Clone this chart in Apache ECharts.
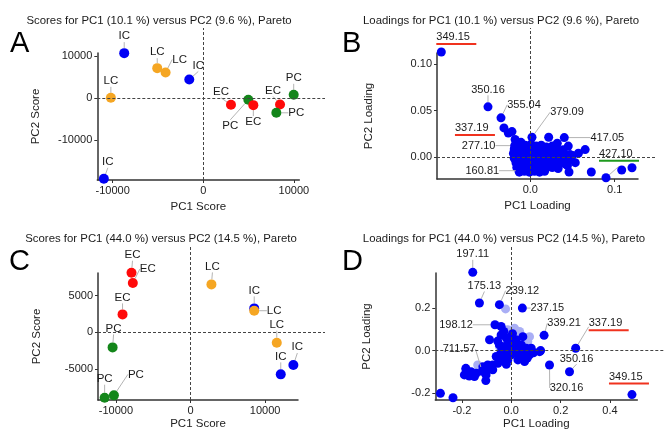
<!DOCTYPE html>
<html>
<head>
<meta charset="utf-8">
<script src="https://cdn.jsdelivr.net/npm/echarts@6/dist/echarts.min.js"></script>
<style>
  html, body { margin: 0; padding: 0; background: #fff; }
  #chart { width: 664px; height: 429px; }
</style>
</head>
<body>
<div id="chart"></div>
<script>
// ---- panel A: scores, PC1 (10.1 %) vs PC2 (9.6 %)
const aGroups = ['IC', 'LC', 'LC', 'IC', 'LC', 'EC', 'PC', 'EC', 'EC', 'PC', 'PC', 'IC'];
const aPC1 = [-8729, -5083, -4162, -1547, -10203, 3057, 4972, 5525, 8471, 8066, 9982, -10976];
const aPC2 = [10664, 7109, 6082, 4423, 79, -1580, -395, -1659, -1501, -3476, 790, -19115];

// ---- panel C: scores, PC1 (44.0 %) vs PC2 (14.5 %)
const cGroups = ['EC', 'EC', 'EC', 'PC', 'PC', 'PC', 'LC', 'IC', 'LC', 'LC', 'IC', 'IC'];
const cPC1 = [-7911, -7733, -9111, -10444, -11511, -10267, 2800, 8533, 8533, 11556, 13778, 12089];
const cPC2 = [8136, 6727, 2455, -2045, -8909, -8591, 6545, 3273, 2955, -1409, -4455, -5727];

// ---- panel B: loadings, labelled variables
const bTagNames = ['349.15', '350.16', '355.04', '337.19', '379.09', '417.05', '277.10', '160.81', '427.10'];
const bTagX = [-0.1054, -0.0501, -0.0347, -0.0312, 0.0020, 0.0403, -0.0185, -0.0118, 0.0897];
const bTagY = [0.1129, 0.0541, 0.0423, 0.0315, 0.0215, 0.0211, 0.0125, -0.0144, -0.0219];
// other variables
const bX = [-0.0217, 0.0218, 0.032, 0.065, 0.057, 0.0459, 0.0723, 0.1083, 0.1205, 0.0533, -0.026, -0.018, 0.039, 0.045, 0.050, 0.044,
  -0.016, -0.011, -0.006, 0.001, 0.007, 0.013, 0.019, 0.026, 0.031,
  -0.019, -0.014, -0.008, -0.003, 0.004, 0.010, 0.016, 0.022, 0.028, 0.034, 0.040,
  -0.020, -0.015, -0.009, -0.004, 0.002, 0.008, 0.013, 0.019, 0.025, 0.031, 0.036, 0.042, 0.047,
  -0.019, -0.013, -0.008, -0.002, 0.004, 0.010, 0.016, 0.021, 0.027, 0.033, 0.038, 0.045,
  -0.017, -0.012, -0.006, 0.000, 0.006, 0.012, 0.018, 0.024, 0.030, 0.036, 0.041,
  -0.016, -0.010, -0.004, 0.002, 0.008, 0.014, 0.020, 0.026, 0.033,
  -0.013, -0.007, -0.001, 0.005, 0.011, 0.017];
const bY = [0.0275, 0.0215, 0.015, 0.0082, 0.0043, -0.0158, -0.0158, -0.0137, -0.0112, -0.0058, 0.026, 0.019, 0.008, 0.012, 0.002, -0.009,
  0.014, 0.016, 0.013, 0.014, 0.012, 0.013, 0.011, 0.012, 0.010,
  0.009, 0.010, 0.008, 0.010, 0.009, 0.008, 0.009, 0.007, 0.008, 0.006, 0.004,
  0.004, 0.005, 0.003, 0.005, 0.004, 0.003, 0.005, 0.003, 0.004, 0.002, 0.003, 0.001, 0.003,
  -0.001, 0.000, -0.002, 0.000, -0.001, 0.000, -0.002, 0.000, -0.001, -0.002, 0.000, -0.003,
  -0.006, -0.005, -0.007, -0.005, -0.006, -0.007, -0.005, -0.006, -0.007, -0.005, -0.007,
  -0.011, -0.010, -0.012, -0.010, -0.011, -0.012, -0.010, -0.011, -0.012,
  -0.016, -0.015, -0.016, -0.015, -0.016, -0.015];

// ---- panel D: loadings, labelled variables
const dTagNames = ['197.11', '175.13', '239.12', '237.15', '198.12', '339.21', '337.19', '350.16', '320.16', '349.15', '711.57'];
const dTagX = [-0.156, -0.129, -0.048, 0.045, -0.066, 0.133, 0.261, 0.236, 0.155, 0.489, -0.118];
const dTagY = [0.370, 0.225, 0.217, 0.201, 0.122, 0.072, 0.011, -0.100, -0.068, -0.208, -0.098];
// other variables
const dX = [-0.041, -0.088, -0.041, -0.020, 0.000, 0.020, 0.047, -0.048, -0.027, -0.007, 0.013, 0.041, 0.061, 0.081, 0.115, 0.119,
  -0.041, -0.020, 0.000, 0.020, 0.047, 0.074, -0.061, -0.034, -0.014, 0.027, 0.054, -0.054, -0.075, -0.095, -0.115,
  -0.075, -0.102, -0.183, -0.163, -0.142, -0.190, -0.170, -0.149, -0.102, -0.103, -0.287, -0.236, -0.184,
  -0.010, 0.005, -0.025, 0.010, 0.030, -0.010, 0.035, 0.005, -0.030, 0.025, -0.055, 0.065, 0.090, -0.020, -0.035];
const dY = [0.114, 0.051, 0.074, 0.059, 0.066, 0.051, 0.066, 0.027, 0.019, 0.019, 0.019, 0.027, 0.011, 0.011, -0.005, 0.000,
  -0.005, -0.012, -0.020, -0.012, -0.020, -0.020, -0.028, -0.044, -0.044, -0.044, -0.052, -0.060, -0.068, -0.068, -0.076,
  -0.091, -0.100, -0.091, -0.100, -0.107, -0.115, -0.120, -0.123, -0.115, -0.142, -0.202, -0.223, -0.084,
  0.040, 0.035, 0.005, 0.000, 0.000, -0.025, -0.030, 0.080, 0.090, 0.030, 0.045, -0.035, -0.010, -0.065, -0.020];
// faint (lighter) variables
const dFaintX = [-0.023, -0.014, 0.013, 0.034, 0.067, -0.136, -0.034, -0.048, 0.074];
const dFaintY = [0.197, 0.098, 0.106, 0.090, 0.043, -0.068, -0.028, 0.019, 0.066];

// ---- layout (label offsets in px, relative to the point)
const aOff = [[0, -17], [0, -16], [14, -13], [9, -14], [0, -17], [-10, -13], [-18, 26], [0, 17], [-7, -14], [20, 0], [0, -17], [4, -17]];
const cOff = [[1, -18], [15, -14], [0, -17], [1, -19], [0, -19], [22, -21], [1, -18], [0, -18], [20, 0], [0, -18], [4, -18], [0, -18]];
const bOff = [[15, -14], [0, -17], [23, -13], [-29, 1], [35, -25], [43, 0], [-36, 0], [-38, 0], [13, -23]];
const dOff = [[0, -18], [5, -17], [23, -14], [25, 0], [-39, 0], [20, -12], [33, -24], [7, -13], [17, 23], [-3, -17], [-23, -22]];
const bUnder = { 0: 'r', 3: 'r', 8: 'g' };
const dUnder = { 6: 'r', 9: 'r' };
const bNoLine = [0, 3];
const dNoLine = [9];

const FONT = 'Liberation Sans, Arial, Helvetica, sans-serif';
const groupColor = { IC: '#0000f5', LC: '#f5a623', EC: '#ff0a0a', PC: '#13861a' };
const BLUE = '#0000f5';

// plot boxes [left, top, right, bottom] and the reach of the zero lines
const boxes = [
  { b: [97.3, 53, 299.3, 180], x: [-11700, 10600], y: [-19400, 10700], reach: [325, 28] },
  { b: [437, 53, 638, 179], x: [-0.1105, 0.1276], y: [-0.0233, 0.1118], reach: [657, 28] },
  { b: [98, 273, 298, 400], x: [-12400, 14400], y: [-9223, 8100], reach: [325, 247] },
  { b: [435.3, 273, 637.3, 400], x: [-0.3077, 0.5106], y: [-0.2336, 0.3668], reach: [664, 247] }
];
const ticks = [
  { x: [-10000, 0, 10000], y: [-10000, 0, 10000], fx: v => String(v), fy: v => String(v), nx: 'PC1 Score', ny: 'PC2 Score', gx: 21, gy: 55 },
  { x: [0, 0.1], y: [0, 0.05, 0.1], fx: v => v.toFixed(1), fy: v => v.toFixed(2), nx: 'PC1 Loading', ny: 'PC2 Loading', gx: 21, gy: 62 },
  { x: [-10000, 0, 10000], y: [-5000, 0, 5000], fx: v => String(v), fy: v => String(v), nx: 'PC1 Score', ny: 'PC2 Score', gx: 18, gy: 55 },
  { x: [-0.2, 0, 0.2, 0.4], y: [-0.2, 0, 0.2], fx: v => v.toFixed(1), fy: v => v.toFixed(1), nx: 'PC1 Loading', ny: 'PC2 Loading', gx: 18, gy: 62 }
];

const grids = [], xAxes = [], yAxes = [];
const axisColor = '#333';
boxes.forEach((p, i) => {
  const [l, t, r, b] = p.b;
  grids.push({ left: l, top: t, width: r - l, height: b - t, containLabel: false, outerBoundsMode: 'none' });
  const tk = ticks[i];
  const common = {
    type: 'value', gridIndex: i, scale: true,
    axisLine: { show: true, onZero: false, lineStyle: { color: axisColor, width: 1.5 } },
    axisTick: { show: true, length: 3, lineStyle: { color: axisColor } },
    splitLine: { show: false },
    nameLocation: 'middle',
    nameTextStyle: { fontFamily: FONT, fontSize: 11.5, color: '#222' }
  };
  xAxes.push(Object.assign({}, common, {
    min: p.x[0], max: p.x[1], name: tk.nx, nameGap: tk.gx,
    axisTick: Object.assign({}, common.axisTick, { customValues: tk.x }),
    axisLabel: { customValues: tk.x, formatter: tk.fx, fontFamily: FONT, fontSize: 11, color: '#222', margin: 5 }
  }));
  yAxes.push(Object.assign({}, common, {
    min: p.y[0], max: p.y[1], name: tk.ny, nameGap: tk.gy,
    axisTick: Object.assign({}, common.axisTick, { customValues: tk.y }),
    axisLabel: { customValues: tk.y, formatter: tk.fy, fontFamily: FONT, fontSize: 11, color: '#222', margin: 5 }
  }));
});
// overlay grids that carry the dashed zero lines past the plot box
boxes.forEach((p, i) => {
  const [l, t, r, b] = p.b;
  const [rr, tt] = p.reach;
  const sx = (p.x[1] - p.x[0]) / (r - l);
  const sy = (p.y[1] - p.y[0]) / (b - t);
  grids.push({ left: l, top: tt, width: rr - l, height: b - tt, containLabel: false, outerBoundsMode: 'none' });
  xAxes.push({ type: 'value', gridIndex: 4 + i, show: false, min: p.x[0], max: p.x[0] + (rr - l) * sx });
  yAxes.push({ type: 'value', gridIndex: 4 + i, show: false, min: p.y[0], max: p.y[0] + (b - tt) * sy });
});

const series = [];
for (let i = 0; i < 4; i++) {
  series.push({
    type: 'scatter', xAxisIndex: 4 + i, yAxisIndex: 4 + i, data: [], silent: true, z: 1,
    markLine: {
      silent: true, symbol: ['none', 'none'], label: { show: false },
      lineStyle: { type: [3, 2], color: '#444', width: 1 },
      data: [{ xAxis: 0 }, { yAxis: 0 }]
    }
  });
}

const leader = { show: true, lineStyle: { color: '#b4b4b4', width: 1 } };
const tagLabel = { show: true, position: 'inside', fontFamily: FONT, fontSize: 11, color: '#1a1a1a' };

function scoreSeries(gi, groups, xs, ys, off) {
  return {
    type: 'scatter', xAxisIndex: gi, yAxisIndex: gi, symbolSize: 10, z: 3, clip: false,
    data: groups.map((g, k) => ({ name: g, value: [xs[k], ys[k]] })),
    itemStyle: { color: p => groupColor[p.name], opacity: 1 },
    label: Object.assign({}, tagLabel, { formatter: '{b}', fontSize: 11.5 }),
    labelLine: leader,
    labelLayout: p => ({ dx: off[p.dataIndex][0], dy: off[p.dataIndex][1] })
  };
}
series.push(scoreSeries(0, aGroups, aPC1, aPC2, aOff));
series.push(scoreSeries(2, cGroups, cPC1, cPC2, cOff));

function plainSeries(gi, xs, ys, color) {
  return {
    type: 'scatter', xAxisIndex: gi, yAxisIndex: gi, symbolSize: 9, z: 3, clip: false,
    data: xs.map((x, k) => [x, ys[k]]),
    itemStyle: { color: color, opacity: 1 }
  };
}
function tagSeries(gi, names, xs, ys, off, under, noLine) {
  return {
    type: 'scatter', xAxisIndex: gi, yAxisIndex: gi, symbolSize: 9, z: 4, clip: false,
    data: names.map((n, k) => {
      const d = { name: n, value: [xs[k], ys[k]] };
      if (noLine.indexOf(k) >= 0) d.labelLine = { show: false };
      return d;
    }),
    itemStyle: { color: BLUE, opacity: 1 },
    label: Object.assign({}, tagLabel, {
      formatter: p => under[p.dataIndex] ? '{t|' + p.name + '}\n{' + under[p.dataIndex] + '|}' : p.name,
      rich: {
        t: { fontFamily: FONT, fontSize: 11, color: '#1a1a1a', lineHeight: 12, align: 'left' },
        r: { width: 40, height: 2, backgroundColor: '#f0321e', align: 'left' },
        g: { width: 40, height: 2, backgroundColor: '#1e9a1e', align: 'left' }
      }
    }),
    labelLine: leader,
    labelLayout: p => ({ dx: off[p.dataIndex][0], dy: off[p.dataIndex][1] })
  };
}
series.push(plainSeries(1, bX, bY, BLUE));
series.push(tagSeries(1, bTagNames, bTagX, bTagY, bOff, bUnder, bNoLine));
series.push(plainSeries(3, dFaintX, dFaintY, '#a9aef5'));
series.push(plainSeries(3, dX, dY, BLUE));
series.push(tagSeries(3, dTagNames, dTagX, dTagY, dOff, dUnder, dNoLine));

const titleStyle = { fontFamily: FONT, fontSize: 11.4, fontWeight: 'normal', color: '#1a1a1a' };
const letterStyle = { fontFamily: FONT, fontSize: 29, fontWeight: 'normal', color: '#000' };
const titles = [
  { text: 'Scores for PC1 (10.1 %) versus PC2 (9.6 %), Pareto', left: 159, top: 15, textAlign: 'center', padding: 0, textStyle: titleStyle },
  { text: 'Loadings for PC1 (10.1 %) versus PC2 (9.6 %), Pareto', left: 501, top: 15, textAlign: 'center', padding: 0, textStyle: titleStyle },
  { text: 'Scores for PC1 (44.0 %) versus PC2 (14.5 %), Pareto', left: 161, top: 233, textAlign: 'center', padding: 0, textStyle: titleStyle },
  { text: 'Loadings for PC1 (44.0 %) versus PC2 (14.5 %), Pareto', left: 504, top: 233, textAlign: 'center', padding: 0, textStyle: titleStyle },
  { text: 'A', left: 10, top: 29, padding: 0, textStyle: letterStyle },
  { text: 'B', left: 342, top: 29, padding: 0, textStyle: letterStyle },
  { text: 'C', left: 9, top: 247, padding: 0, textStyle: letterStyle },
  { text: 'D', left: 342, top: 247, padding: 0, textStyle: letterStyle }
];

const chart = echarts.init(document.getElementById('chart'));
chart.setOption({
  animation: false,
  backgroundColor: '#fff',
  title: titles,
  grid: grids,
  xAxis: xAxes,
  yAxis: yAxes,
  series: series
});
</script>
</body>
</html>
